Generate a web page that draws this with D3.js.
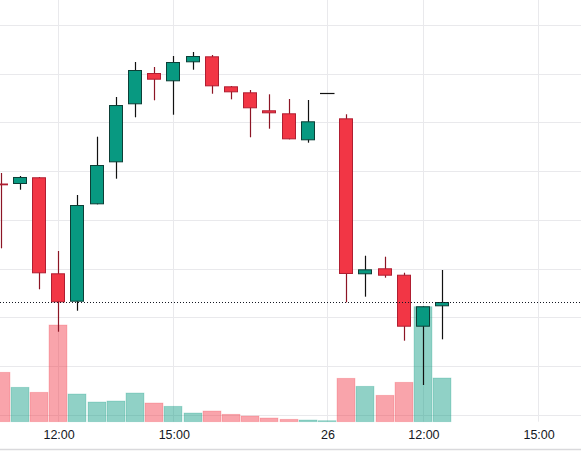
<!DOCTYPE html>
<html><head><meta charset="utf-8">
<script src="https://cdn.jsdelivr.net/npm/d3@7"></script>
<style>
html,body{margin:0;padding:0;background:#fff;}
svg{display:block;}
</style></head>
<body>
<svg id="chart" width="581" height="451"></svg>
<script>
// ---- data ----
const openVals  = [127.46,127.36,128.74,109.03,103.20,123.19,131.81,143.72,150.14,148.44,152.34,153.57,147.41,146.18,142.49,141.87,136.33,146.04,140.84,108.83,110.06,108.74,98.07,102.26];
const highVals  = [129.62,129.00,128.80,113.61,125.10,137.07,145.22,152.40,151.37,153.63,154.45,153.84,147.47,146.65,145.77,144.81,144.60,146.04,141.67,112.64,112.44,109.15,102.26,109.71];
const lowVals   = [114.16,126.19,105.75,97.04,101.35,123.19,128.45,141.05,144.54,141.58,150.82,145.89,144.74,136.95,138.71,136.53,135.84,146.04,103.08,104.23,108.13,95.20,86.10,95.48];
const closeVals = [127.09,128.80,109.03,103.08,123.05,131.26,143.57,150.76,148.77,152.40,153.63,147.41,146.18,142.90,141.87,136.53,140.23,146.04,108.89,109.85,108.54,98.07,102.26,103.14];
const volumeVals = [4940,3440,2940,9670,2770,1970,2070,2870,1870,1540,870,1070,740,570,370,240,170,100,4340,3540,2640,3940,11500,4370];
const tickIndex  = [3, 9, 17, 22, 28];
const tickLabels = ["12:00","15:00","26","12:00","15:00"];
const priceGrid  = [80,90,100,110,120,130,140,150,160];

// ---- layout ----
const W = 581, H = 451;
const plotBottom = 421.7;
const svg = d3.select("#chart");

const x = d3.scaleLinear().domain([0, 30]).range([0.5, 576.5]);
const y = d3.scaleLinear().domain([80, 160]).range([414.74, 24.98]);
const yv = d3.scaleLinear().domain([0, 10000]).range([plotBottom, plotBottom - 100]);

const candles = openVals.map((o,i)=>({i, o, h:highVals[i], l:lowVals[i], c:closeVals[i], v:volumeVals[i]}));

const UP = "#089981", UP_BORDER = "#0d3f37", UP_WICK = "#111111";
const DN = "#f23645", DN_BORDER = "#b01e31", DN_WICK = "#8c1525";
const UP_VOL = "rgba(8,153,129,0.45)", DN_VOL = "rgba(242,54,69,0.45)";

// grid
const grid = svg.append("g");
grid.selectAll("line.h").data(priceGrid).enter().append("line")
  .attr("x1",0).attr("x2",W)
  .attr("y1",d=>Math.round(y(d))+0.5).attr("y2",d=>Math.round(y(d))+0.5)
  .attr("stroke","#e9e9ec").attr("stroke-width",1);
grid.selectAll("line.v").data(tickIndex).enter().append("line")
  .attr("x1",d=>Math.round(x(d))+0.5).attr("x2",d=>Math.round(x(d))+0.5)
  .attr("y1",0).attr("y2",plotBottom)
  .attr("stroke","#e9e9ec").attr("stroke-width",1);

// volume
svg.append("g").selectAll("rect").data(candles).enter().append("rect")
  .attr("x",d=>Math.round(x(d.i))-9)
  .attr("width",18)
  .attr("y",d=>yv(d.v))
  .attr("height",d=>plotBottom - yv(d.v))
  .attr("fill",d=>d.c>=d.o?UP_VOL:DN_VOL)
  .attr("stroke",d=>d.c>=d.o?"rgba(8,153,129,0.25)":"rgba(242,54,69,0.25)")
  .attr("stroke-width",0.8);

// candles
const cg = svg.append("g");
candles.forEach(d=>{
  const up = d.c >= d.o;
  const cx = Math.round(x(d.i));
  const top = y(Math.max(d.o,d.c)), bot = y(Math.min(d.o,d.c));
  const wickCol = up ? UP_WICK : DN_WICK;
  if (d.h > d.l) {
    cg.append("line").attr("x1",cx+0.5).attr("x2",cx+0.5)
      .attr("y1",y(d.h)).attr("y2",y(d.l))
      .attr("stroke",wickCol).attr("stroke-width",1.2);
  }
  if (bot - top < 1.5) {
    cg.append("line").attr("x1",cx-7).attr("x2",cx+7.5)
      .attr("y1",Math.round(top)+0.5).attr("y2",Math.round(top)+0.5)
      .attr("stroke", d.h===d.l ? "#111" : (up?UP:DN)).attr("stroke-width", d.h===d.l?1.2:2);
  } else {
    cg.append("rect").attr("x",cx-6.5).attr("width",13)
      .attr("y",top+0.5).attr("height",Math.max(bot-top-1,0.5))
      .attr("fill",up?UP:DN).attr("stroke",up?UP_BORDER:DN_BORDER).attr("stroke-width",1);
  }
});

// last price dotted line
const last = candles[candles.length-1];
svg.append("line").attr("x1",0).attr("x2",W)
  .attr("y1",Math.round(y(last.c))+0.5).attr("y2",Math.round(y(last.c))+0.5)
  .attr("stroke","#131722").attr("stroke-width",1).attr("stroke-dasharray","1,2");

// time axis
const axis = d3.axisBottom(x).tickValues(tickIndex)
  .tickFormat((d,k)=>tickLabels[k]).tickSize(0).tickPadding(0);
const ag = svg.append("g").attr("transform","translate(0,430)").call(axis);
ag.select(".domain").remove();
ag.selectAll("text").attr("font-family","'Liberation Sans', Arial, sans-serif")
  .attr("font-size","12.5px").attr("fill","#131722").attr("dy","0.71em")
  .attr("x",0.5);
svg.append("line").attr("x1",0).attr("x2",W).attr("y1",449.5).attr("y2",449.5)
  .attr("stroke","#d9d9dc").attr("stroke-width",1.5);
</script>
</body></html>
